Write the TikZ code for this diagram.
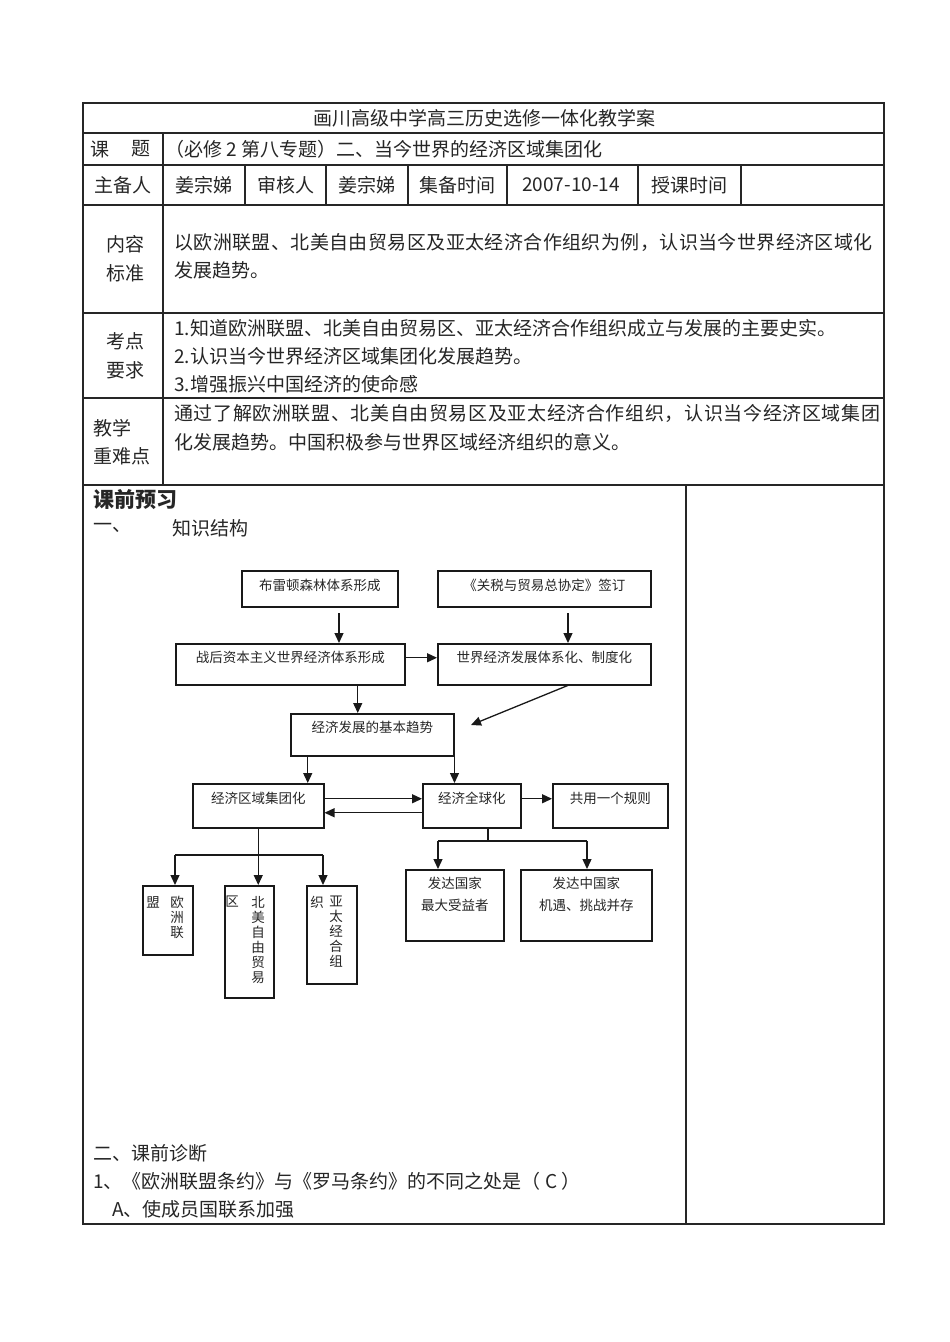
\documentclass[tikz,border=0pt]{standalone}
\usepackage{fontspec}
\setmainfont{Noto Sans CJK SC}
\usetikzlibrary{arrows.meta,calc}
\tikzset{
  tl/.style={line width=1.1pt, draw=black!85},
  tt/.style={font=\fontsize{19}{22}\selectfont, inner sep=0pt, text=black!85},
  ttw/.style={tt, anchor=west},
  fbox/.style={draw=black!90, line width=1.5pt, inner sep=0pt, anchor=north west},
  ft/.style={font=\fontsize{13.5}{16}\selectfont, inner sep=0pt, text=black!85},
  vt/.style={font=\fontsize{13.5}{15}\selectfont, inner sep=0pt, text=black!85, align=center, anchor=north},
  arr/.style={-{Triangle[length=10pt,width=9pt]}, line width=1.3pt, draw=black!90},
  ln/.style={line width=1.3pt, draw=black!90}
}
\begin{document}
\begin{tikzpicture}[x=1pt,y=-1pt]
\useasboundingbox[fill=white] (0,0) rectangle (950,1342);

% ---------- table frame ----------
\draw[tl] (83,103) rectangle (884,1224);
\foreach \yy in {133,165,205,313,398,485} \draw[tl] (83,\yy) -- (884,\yy);
\draw[tl] (163,133) -- (163,485);
\foreach \xx in {245,326,408,507,638,741} \draw[tl] (\xx,165) -- (\xx,205);
\draw[tl] (686,485) -- (686,1224);

% ---------- table texts ----------
\node[tt] (title) at (484,118) {画川高级中学高三历史选修一体化教学案};
\node[tt] (kt1) at (100,149) {课};
\node[tt] (kt2) at (141,149) {题};
\node[ttw] (topic) at (165,149) {（必修 2 第八专题）二、当今世界的经济区域集团化};

\node[tt] (r3a) at (123,185) {主备人};
\node[tt] (r3b) at (204,185) {姜宗娣};
\node[tt] (r3c) at (285.5,185) {审核人};
\node[tt] (r3d) at (367,185) {姜宗娣};
\node[tt] (r3e) at (457.5,185) {集备时间};
\node[tt] (r3f) at (571,185) {2007-10-14};
\node[tt] (r3g) at (689.5,185) {授课时间};

\node[tt] (nr1) at (125,244) {内容};
\node[tt] (nr2) at (125,273) {标准};
\node[ttw] (nrl1) at (174,242) {\addfontfeature{LetterSpace=2.2}以欧洲联盟、北美自由贸易区及亚太经济合作组织为例，认识当今世界经济区域化};
\node[ttw] (nrl2) at (174,270) {发展趋势。};

\node[tt] (kd1) at (125,341) {考点};
\node[tt] (kd2) at (125,370) {要求};
\node[ttw] (kdl1) at (174,328) {1.知道欧洲联盟、北美自由贸易区、亚太经济合作组织成立与发展的主要史实。};
\node[ttw] (kdl2) at (174,356) {2.认识当今世界经济区域集团化发展趋势。};
\node[ttw] (kdl3) at (174,384) {3.增强振兴中国经济的使命感};

\node[ttw] (jx1) at (93,428) {教学};
\node[ttw] (jx2) at (93,456) {重难点};
\node[ttw] (jxl1) at (174,413) {\addfontfeature{LetterSpace=3.3}通过了解欧洲联盟、北美自由贸易区及亚太经济合作组织，认识当今经济区域集团};
\node[ttw] (jxl2) at (174,442) {化发展趋势。中国积极参与世界区域经济组织的意义。};

\node[ttw, font=\fontsize{21}{24}\selectfont\bfseries] (kqyx) at (93,500) {课前预习};
\node[ttw] (yi) at (93,528) {一、};
\node[ttw] (zsjg) at (172,528) {知识结构};

\node[ttw] (er) at (93,1153) {二、课前诊断};
\node[ttw] (q1) at (93,1181) {1、《欧洲联盟条约》与《罗马条约》的不同之处是（ C ）};
\node[ttw] (qa) at (112,1209) {A、使成员国联系加强};

% ---------- flowchart boxes ----------
\node[fbox, minimum width=156pt, minimum height=36pt] (b1) at (241,570) {};
\node[fbox, minimum width=213pt, minimum height=36pt] (b2) at (437,570) {};
\node[fbox, minimum width=229pt, minimum height=41pt] (b3) at (175,643) {};
\node[fbox, minimum width=213pt, minimum height=41pt] (b4) at (437,643) {};
\node[fbox, minimum width=163pt, minimum height=42pt] (b5) at (290,713) {};
\node[fbox, minimum width=131pt, minimum height=44pt] (b6) at (192,783) {};
\node[fbox, minimum width=98pt, minimum height=44pt] (b7) at (422,783) {};
\node[fbox, minimum width=115pt, minimum height=44pt] (b8) at (552,783) {};
\node[fbox, minimum width=98pt, minimum height=71pt] (b9) at (405,869) {};
\node[fbox, minimum width=131pt, minimum height=71pt] (b10) at (520,869) {};
\node[fbox, minimum width=50pt, minimum height=69pt] (v1) at (142,885) {};
\node[fbox, minimum width=49pt, minimum height=112pt] (v2) at (224,885) {};
\node[fbox, minimum width=50pt, minimum height=98pt] (v3) at (306,885) {};

% ---------- flowchart texts ----------
\node[ft] (t1) at ($(b1.north)+(0,15)$) {布雷顿森林体系形成};
\node[ft] (t2) at ($(b2.north)+(0,15)$) {《关税与贸易总协定》签订};
\node[ft] (t3) at ($(b3.north)+(0,14)$) {战后资本主义世界经济体系形成};
\node[ft] (t4) at ($(b4.north)+(0,14)$) {世界经济发展体系化、制度化};
\node[ft] (t5) at ($(b5.north)+(0,14)$) {经济发展的基本趋势};
\node[ft] (t6) at ($(b6.north)+(0,15)$) {经济区域集团化};
\node[ft] (t7) at ($(b7.north)+(0,15)$) {经济全球化};
\node[ft] (t8) at ($(b8.north)+(0,15)$) {共用一个规则};
\node[ft] (t9a) at ($(b9.north)+(0,14)$) {发达国家};
\node[ft] (t9b) at ($(b9.north)+(0,36)$) {最大受益者};
\node[ft] (t10a) at ($(b10.north)+(0,14)$) {发达中国家};
\node[ft] (t10b) at ($(b10.north)+(0,36)$) {机遇、挑战并存};

\node[vt] (v1r) at (177,896) {欧\\洲\\联};
\node[vt] (v1l) at (153,896) {盟};
\node[vt] (v2r) at (258,896) {北\\美\\自\\由\\贸\\易};
\node[vt] (v2l) at (232,896) {区};
\node[vt] (v3r) at (336,896) {亚\\太\\经\\合\\组};
\node[vt] (v3l) at (317,896) {织};

% ---------- connectors ----------
\coordinate (c1) at (339,613);
\coordinate (c2) at (568,613);
\coordinate (c5) at (471,725);
\draw[arr] (c1) -- (c1 |- b3.north);
\draw[arr] (c2) -- (c2 |- b4.north);
\draw[arr] ([yshift=6.5pt]b3.east) -- ([yshift=6.5pt]b4.west);
\draw[arr] ([xshift=67.5pt]b3.south) -- ([xshift=67.5pt]b3.south |- b5.north);
\draw[arr] ([xshift=23.5pt]b4.south) -- (c5);
\draw[arr] ([xshift=-64.5pt]b5.south) -- ([xshift=-64.5pt]b5.south |- b6.north);
\draw[arr] (b5.south east) -- (b5.south east |- b7.north);
\draw[arr] ([yshift=7pt]b6.east) -- ([yshift=7pt]b6.east -| b7.west);
\draw[arr] ([yshift=-7pt]b7.west) -- ([yshift=-7pt]b7.west -| b6.east);
\draw[arr] ([yshift=7pt]b7.east) -- ([yshift=7pt]b7.east -| b8.west);

% left tree
\coordinate (l1) at (175,855);
\coordinate (l3) at (323,855);
\draw[ln] (l1) -- (l3);
\draw[arr] (b6.south) -- (b6.south |- v2.north);
\draw[arr] (l1) -- (l1 |- v1.north);
\draw[arr] (l3) -- (l3 |- v3.north);

% right tree
\coordinate (r0) at (488,841);
\coordinate (r1) at (438,841);
\coordinate (r2) at (587,841);
\draw[ln] (b7.south -| r0) -- (r0);
\draw[ln] (r1) -- (r2);
\draw[arr] (r1) -- (r1 |- b9.north);
\draw[arr] (r2) -- (r2 |- b10.north);
\end{tikzpicture}
\end{document}
